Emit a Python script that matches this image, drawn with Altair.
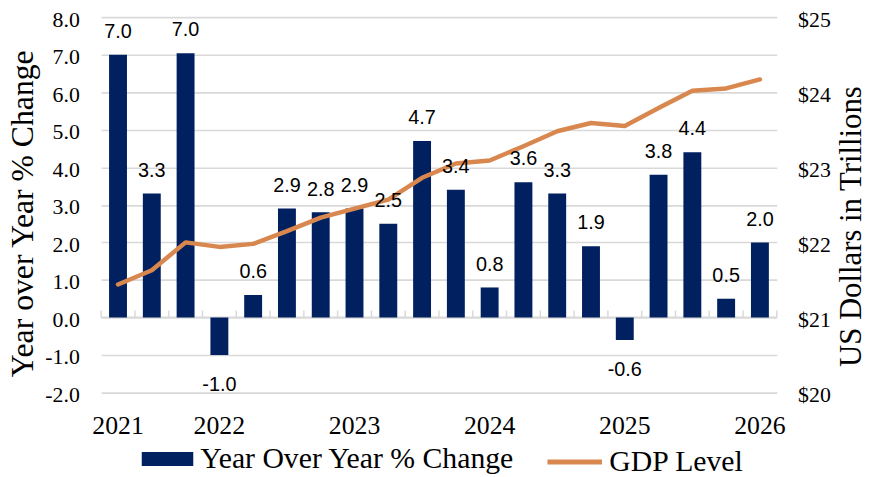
import altair as alt
import pandas as pd

# ---------------- data ----------------
quarters = [
    "2021 Q1", "2021 Q2", "2021 Q3", "2021 Q4",
    "2022 Q1", "2022 Q2", "2022 Q3", "2022 Q4",
    "2023 Q1", "2023 Q2", "2023 Q3", "2023 Q4",
    "2024 Q1", "2024 Q2", "2024 Q3", "2024 Q4",
    "2025 Q1", "2025 Q2", "2025 Q3", "2025 Q4",
]
yoy_change = [7.0, 3.3, 7.04, -1.0, 0.6, 2.9, 2.8, 2.9, 2.5, 4.7,
              3.4, 0.8, 3.6, 3.3, 1.9, -0.6, 3.8, 4.4, 0.5, 2.0]
gdp_level = [21.44, 21.63, 22.00, 21.94, 21.98, 22.15, 22.33, 22.45, 22.57, 22.86,
             23.05, 23.09, 23.28, 23.48, 23.59, 23.55, 23.79, 24.02, 24.05, 24.17]
year_tick_quarters = ["2021 Q1", "2021 Q4", "2022 Q4", "2023 Q4", "2024 Q4", "2025 Q4"]
year_tick_labels = ["2021", "2022", "2023", "2024", "2025", "2026"]
series_names = ["Year Over Year % Change", "GDP Level"]
left_ticks = [-2, -1, 0, 1, 2, 3, 4, 5, 6, 7, 8]
right_ticks = [20, 21, 22, 23, 24, 25]
left_title = "Year over Year % Change"
right_title = "US Dollars in Trillions"

df = pd.DataFrame({
    "quarter": quarters,
    "yoy": yoy_change,
    "gdp": gdp_level,
    "bar_series": series_names[0],
    "line_series": series_names[1],
})

# ---------------- styles ----------------
NAVY = "#002060"
ORANGE = "#D8884F"
GRID = "#D9D9D9"
SERIF = "Liberation Serif"
SANS = "Liberation Sans"

label_expr = " : ".join(
    f"datum.value == '{q}' ? '{t}'" for q, t in zip(year_tick_quarters, year_tick_labels)
) + " : ''"

x_scale = alt.Scale(domain=quarters, paddingInner=0.47, paddingOuter=0.235)
x_axis = alt.Axis(values=year_tick_quarters, labelExpr=label_expr, labelAngle=0,
                  labelFont=SERIF, labelFontSize=26, labelColor="black",
                  labelPadding=20, ticks=False, tickSize=0, domain=False,
                  grid=False, title=None)


def X(**kw):
    return alt.X("quarter:N", sort=quarters, scale=x_scale, axis=x_axis, title=None, **kw)


y_left_scale = alt.Scale(domain=[-2, 8], nice=False, zero=False)
left_axis = alt.Axis(values=left_ticks,
                     labelExpr="replace(format(datum.value, '.1f'), '\u2212', '-')",
                     labelFont=SERIF, labelFontSize=22, labelOffset=2,
                     labelColor="black", labelPadding=22, ticks=False, tickSize=0,
                     domain=False, grid=True, gridColor=GRID, gridWidth=1.6,
                     title=left_title, titleFont=SERIF, titleFontSize=32,
                     titleFontWeight="normal", titleColor="black", titleAngle=270,
                     titleX=-69, titleY=198, titleBaseline="alphabetic",
                     titleAlign="center", orient="left")

y_right_scale = alt.Scale(domain=[20, 25], nice=False, zero=False)
right_axis = alt.Axis(values=right_ticks, labelExpr="'$' + datum.value", labelFont=SERIF,
                      labelFontSize=22, labelOffset=2, labelColor="black", labelPadding=21,
                      ticks=False, tickSize=0, domain=False, grid=False,
                      title=right_title, titleFont=SERIF, titleFontSize=31,
                      titleFontWeight="normal", titleColor="black", titleAngle=270,
                      titleX=84, titleY=211, titleBaseline="alphabetic",
                      titleAlign="center", orient="right")

base = alt.Chart(df)

zero_line = base.transform_filter(alt.datum.quarter == quarters[0]).mark_rule(
    color=GRID, strokeWidth=2
).encode(y=alt.YDatum(0, scale=y_left_scale, axis=left_axis))

tick_marks = base.mark_rule(color=GRID, strokeWidth=1.5, xOffset=-8).encode(
    x=X(bandPosition=0),
    y=alt.YDatum(0, scale=y_left_scale, axis=left_axis),
    y2=alt.Y2Datum(0.185),
)
tick_last = base.transform_filter(alt.datum.quarter == quarters[-1]).mark_rule(
    color=GRID, strokeWidth=1.5, xOffset=8
).encode(
    x=X(bandPosition=1),
    y=alt.YDatum(0, scale=y_left_scale, axis=left_axis),
    y2=alt.Y2Datum(0.185),
)

bars = base.mark_bar().encode(
    x=X(),
    y=alt.Y("yoy:Q", scale=y_left_scale, axis=left_axis),
    fill=alt.Fill("bar_series:N",
                  scale=alt.Scale(domain=[series_names[0]], range=[NAVY]),
                  legend=alt.Legend(title=None, orient="none", legendX=41, legendY=420,
                                    symbolType="M-1,-0.27H1V0.27H-1Z", symbolSize=2704,
                                    symbolStrokeWidth=0, labelFont=SERIF,
                                    labelFontSize=30, labelColor="black",
                                    labelOffset=7, labelLimit=600)),
)

left_group = alt.layer(zero_line, tick_marks, tick_last, bars)

line = base.mark_line(strokeWidth=4.5, strokeCap="round", strokeJoin="round").encode(
    x=X(),
    y=alt.Y("gdp:Q", scale=y_right_scale, axis=right_axis),
    stroke=alt.Stroke("line_series:N",
                      scale=alt.Scale(domain=[series_names[1]], range=[ORANGE]),
                      legend=alt.Legend(title=None, orient="none", legendX=448, legendY=419,
                                        symbolType="stroke", symbolSize=3025,
                                        symbolStrokeWidth=5, labelFont=SERIF,
                                        labelFontSize=30, labelColor="black",
                                        labelOffset=5, labelLimit=600)),
)

text_base = base.transform_calculate(
    label="replace(format(datum.yoy, '.1f'), '\u2212', '-')"
)
pos_labels = text_base.transform_filter(alt.datum.yoy >= 0).mark_text(
    font=SANS, fontSize=20, color="black", baseline="alphabetic", dy=-17
).encode(
    x=X(),
    y=alt.Y("yoy:Q", scale=y_left_scale, axis=None),
    text="label:N",
)
neg_labels = text_base.transform_filter(alt.datum.yoy < 0).mark_text(
    font=SANS, fontSize=20, color="black", baseline="alphabetic", dy=36
).encode(
    x=X(),
    y=alt.Y("yoy:Q", scale=y_left_scale, axis=None),
    text="label:N",
)
labels = alt.layer(pos_labels, neg_labels)

chart = alt.layer(left_group, line, labels).resolve_scale(
    y="independent"
).properties(
    width=682,
    height=379,
    padding={"left": 94, "top": 7, "right": 87, "bottom": 83},
    autosize=alt.AutoSizeParams(type="none"),
).configure_view(stroke=None).configure_axis(
    labelFont=SERIF, titleFont=SERIF, labelColor="black", titleColor="black"
).configure_legend(labelFont=SERIF, labelColor="black")

chart.save("out.html", embed_options={"renderer": "svg", "actions": False})
